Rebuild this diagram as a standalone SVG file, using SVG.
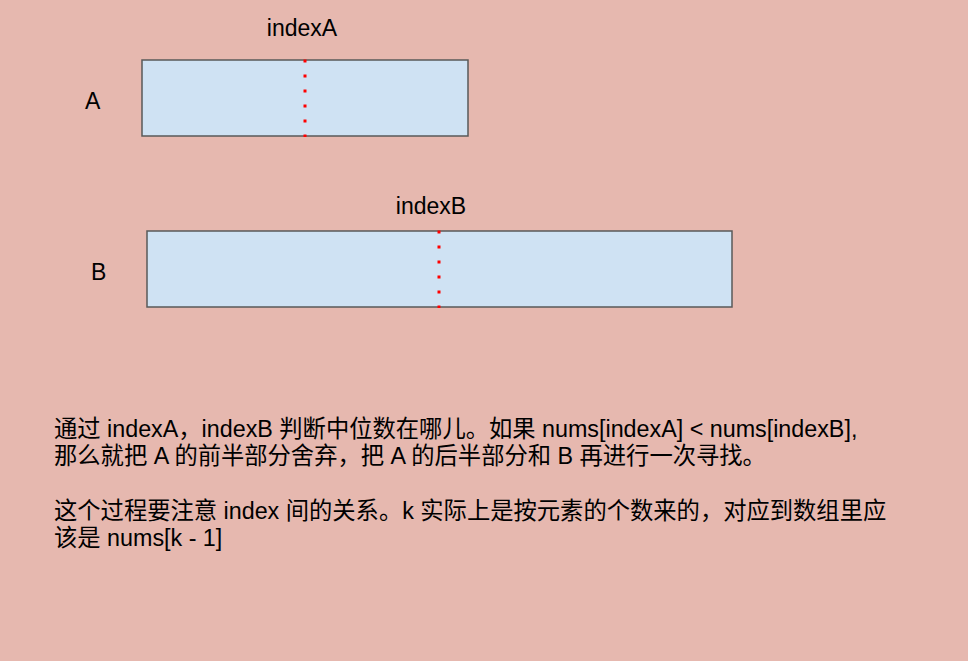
<svg xmlns="http://www.w3.org/2000/svg" width="968" height="661" viewBox="0 0 968 661">
<style>
.t{font-family:"Liberation Sans","Noto Sans CJK SC",sans-serif;font-size:23px;fill:#000}
.box{fill:#cfe2f3;stroke:#595959;stroke-width:1.5}
.mid{stroke:#ff0000;stroke-width:3;stroke-dasharray:3,12}
</style>
<rect width="968" height="661" fill="#e6b8af"/>
<g id="arrayA">
<rect class="box" x="142" y="60" width="326" height="76"/>
<line class="mid" x1="305" y1="59.5" x2="305" y2="137"/>
<text class="t" x="85" y="109">A</text>
<text class="t" x="302" y="36" text-anchor="middle">indexA</text>
</g>
<g id="arrayB">
<rect class="box" x="147" y="231" width="585" height="76"/>
<line class="mid" x1="439" y1="230.5" x2="439" y2="308"/>
<text class="t" x="91" y="280">B</text>
<text class="t" x="431" y="214" text-anchor="middle">indexB</text>
</g>
<g id="note">
<text class="t" x="54" y="437" style="font-size:23.3px">通过 indexA，indexB 判断中位数在哪儿。如果 nums[indexA] &lt; nums[indexB],</text>
<text class="t" x="54" y="464" style="font-size:23.3px">那么就把 A 的前半部分舍弃，把 A 的后半部分和 B 再进行一次寻找。</text>
<text class="t" x="54" y="519" style="font-size:23.3px">这个过程要注意 index 间的关系。k 实际上是按元素的个数来的，对应到数组里应</text>
<text class="t" x="54" y="546" style="font-size:23.3px">该是 nums[k - 1]</text>
</g>
<g id="connectors"/>
</svg>
